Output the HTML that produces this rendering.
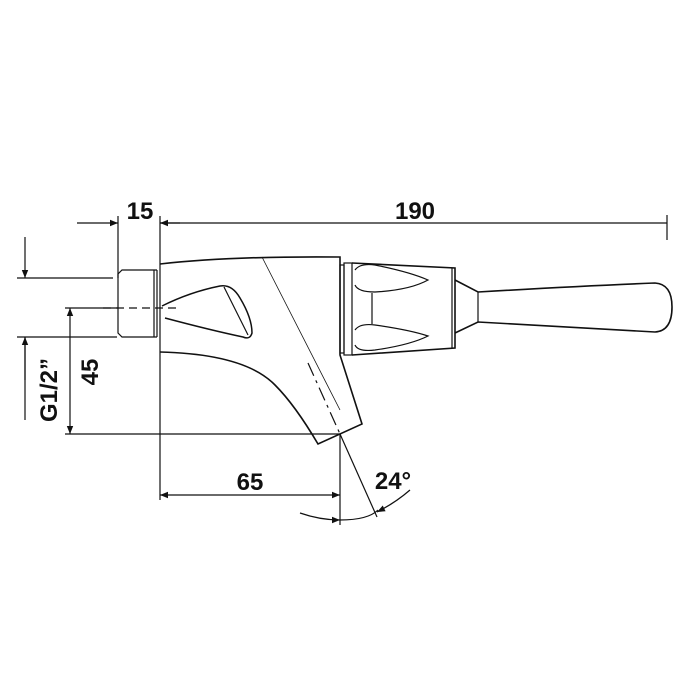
<!DOCTYPE html>
<html><head><style>
html,body{margin:0;padding:0;background:#fff;}
svg{display:block;}
text{font-family:"Liberation Sans",sans-serif;font-weight:bold;fill:#111;}
</style></head><body>
<svg width="700" height="700" viewBox="0 0 700 700" xmlns="http://www.w3.org/2000/svg">
<defs>
<marker id="a" viewBox="0 0 10 10" refX="10" refY="5" markerWidth="20" markerHeight="8" markerUnits="userSpaceOnUse" orient="auto"><path d="M0,1 L10,5 L0,9 z" fill="#111"/></marker>
</defs>
<g stroke="#111" stroke-width="1.2" fill="none">
<line x1="77" y1="223" x2="118" y2="223" marker-end="url(#a)"/>
<line x1="180" y1="223" x2="160" y2="223" marker-end="url(#a)"/>
<line x1="160" y1="223" x2="667" y2="223"/>
<line x1="667" y1="215" x2="667" y2="240"/>
<line x1="118" y1="216" x2="118" y2="278"/>
<line x1="160" y1="216" x2="160" y2="500"/>
<line x1="25" y1="237" x2="25" y2="278" marker-end="url(#a)"/>
<line x1="25" y1="380" x2="25" y2="337" marker-end="url(#a)"/>
<line x1="25" y1="337" x2="25" y2="420"/>
<line x1="17" y1="278" x2="113" y2="278"/>
<line x1="17" y1="337" x2="117" y2="337"/>
<line x1="70" y1="372" x2="70" y2="308" marker-end="url(#a)"/>
<line x1="70" y1="372" x2="70" y2="434" marker-end="url(#a)"/>
<line x1="65" y1="308" x2="118" y2="308"/>
<line x1="65" y1="434" x2="340" y2="434"/>
<line x1="250" y1="495" x2="160" y2="495" marker-end="url(#a)"/>
<line x1="250" y1="495" x2="340" y2="495" marker-end="url(#a)"/>
<line x1="340" y1="434" x2="340" y2="525"/>
<line x1="340" y1="434" x2="377" y2="517"/>
<path d="M300,513 Q320,520 340,520" marker-end="url(#a)"/>
<path d="M340,520 Q368,520 378,510"/>
<path d="M410,490 Q395,503 377,512" marker-end="url(#a)"/>
<path d="M157,270 L122,270 L118,274 L118,333 L122,337 L157,337"/>
<line x1="154" y1="270" x2="154" y2="337"/>
<line x1="157" y1="270" x2="157" y2="337"/>
<line x1="103" y1="308" x2="181" y2="308" stroke-dasharray="8,5"/>
<path d="M160,264 Q230,256 340,257 L340,355 L362,424 L318,444 Q295,405 275,385 Q245,354 160,352" stroke-width="1.6"/>
<path d="M162,306 Q190,292 220,286 Q232,284 240,298 Q252,318 252,333 Q250,340 243,337 Q210,330 165,318" stroke-width="1.5"/>
<line x1="224" y1="287" x2="248" y2="335"/>
<line x1="262" y1="257" x2="340" y2="410" stroke-width="0.8"/>
<line x1="308" y1="363" x2="340" y2="434" stroke-dasharray="14,5,3,5"/>
<rect x="340" y="265" width="4" height="88"/>
<rect x="344" y="263" width="8" height="92"/>
<path d="M352,263 L455,268 L455,348 L352,355" stroke-width="1.6"/>
<line x1="452" y1="268" x2="452" y2="348"/>
<path d="M355,270 Q360,263 375,265 Q410,272 428,280 Q410,290 375,292 Q358,292 355,285"/>
<path d="M355,330 Q360,323 375,325 Q410,330 428,336 Q410,345 375,350 Q358,352 355,345"/>
<line x1="372" y1="293" x2="372" y2="324"/>
<path d="M455,280 L478,292 Q580,286 655,283 Q672,284 672,307 Q672,331 655,332 Q570,327 478,322 L455,333" stroke-width="1.6"/>
<line x1="478" y1="292" x2="478" y2="322"/>
</g>
<text x="140" y="219" font-size="24" text-anchor="middle">15</text>
<text x="415" y="219" font-size="24" text-anchor="middle">190</text>
<text x="250" y="490" font-size="24" text-anchor="middle">65</text>
<text x="393" y="489" font-size="24" text-anchor="middle">24°</text>
<text transform="translate(98,372) rotate(-90)" font-size="24" text-anchor="middle">45</text>
<text transform="translate(57,390) rotate(-90)" font-size="24" text-anchor="middle">G1/2”</text>
</svg>
</body></html>
